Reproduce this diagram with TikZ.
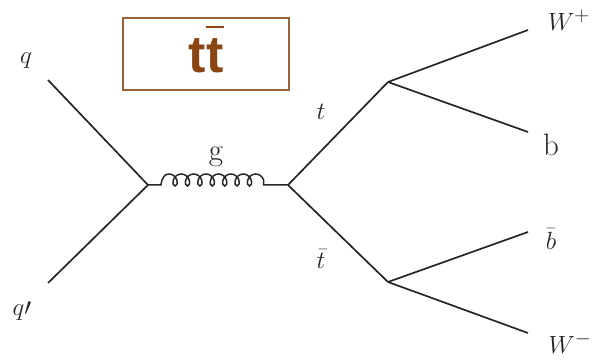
\documentclass[tikz,border=0pt]{standalone}
\usepackage{fontspec}
\newfontfamily\boxfont{Liberation Sans}
\usetikzlibrary{decorations.pathmorphing}
\definecolor{boxbrown}{RGB}{139,69,19}
\tikzset{
  fermion/.style={line width=1.7pt, black!85},
  gluon/.style={line width=1.5pt, black!85, decorate,
    decoration={coil, amplitude=6pt, segment length=12.4pt, aspect=0.8, raise=5pt,
      pre length=13pt, post length=16pt}},
  lbl/.style={font=\fontsize{31}{34}\selectfont, text=black!85, inner sep=0pt},
  titlebox/.style={draw=boxbrown!85, line width=1.2pt, minimum width=166pt, minimum height=72pt, inner sep=0pt}
}
\begin{document}
\begin{tikzpicture}[x=1pt,y=-1pt]
\useasboundingbox (0,0) rectangle (599,363);
\fill[white] (0,0) rectangle (599,363);
% vertices
\coordinate (v1) at (148,185);
\coordinate (v2) at (288,185);
\coordinate (v3) at (388,82);
\coordinate (v4) at (388,282);
\coordinate (eq) at (48,80);
\coordinate (eqp) at (48,283);
\coordinate (eWp) at (528,30);
\coordinate (eb) at (528,132);
\coordinate (ebb) at (528,232);
\coordinate (eWm) at (528,333);
% lines
\draw[fermion] (eq) -- (v1);
\draw[fermion] (eqp) -- (v1);
\draw[gluon] (v1) -- (v2);
\draw[fermion] (v2) -- (v3);
\draw[fermion] (v2) -- (v4);
\draw[fermion] (v3) -- (eWp);
\draw[fermion] (v3) -- (eb);
\draw[fermion] (v4) -- (ebb);
\draw[fermion] (v4) -- (eWm);
% labels
\node[lbl] (lq) at (26,61) {$q$};
\node[lbl] (lqp) at (22,311) {$q\prime$};
\node[lbl] (lg) at (216,157) {g};
\node[lbl] (lt) at (321,112) {$t$};
\node[lbl] (ltb) at (321,259) {$\bar{t}$};
\node[lbl] (lWp) at (569,20) {$W^{+}$};
\node[lbl] (lb) at (551,145) {b};
\node[lbl] (lbb) at (551,239) {$\bar{b}$};
\node[lbl] (lWm) at (570,343) {$W^{-}$};
% title box
\node[titlebox] (box) at (206,54) {};
\node[text=boxbrown, font=\boxfont\bfseries\fontsize{52}{56}\selectfont, inner sep=0pt, anchor=base] (tt) at (206,73)
  {t\ooalign{t\cr\hidewidth\raisebox{0.86em}{\rule{0.34em}{0.035em}}\hidewidth\cr}};
\end{tikzpicture}
\end{document}
